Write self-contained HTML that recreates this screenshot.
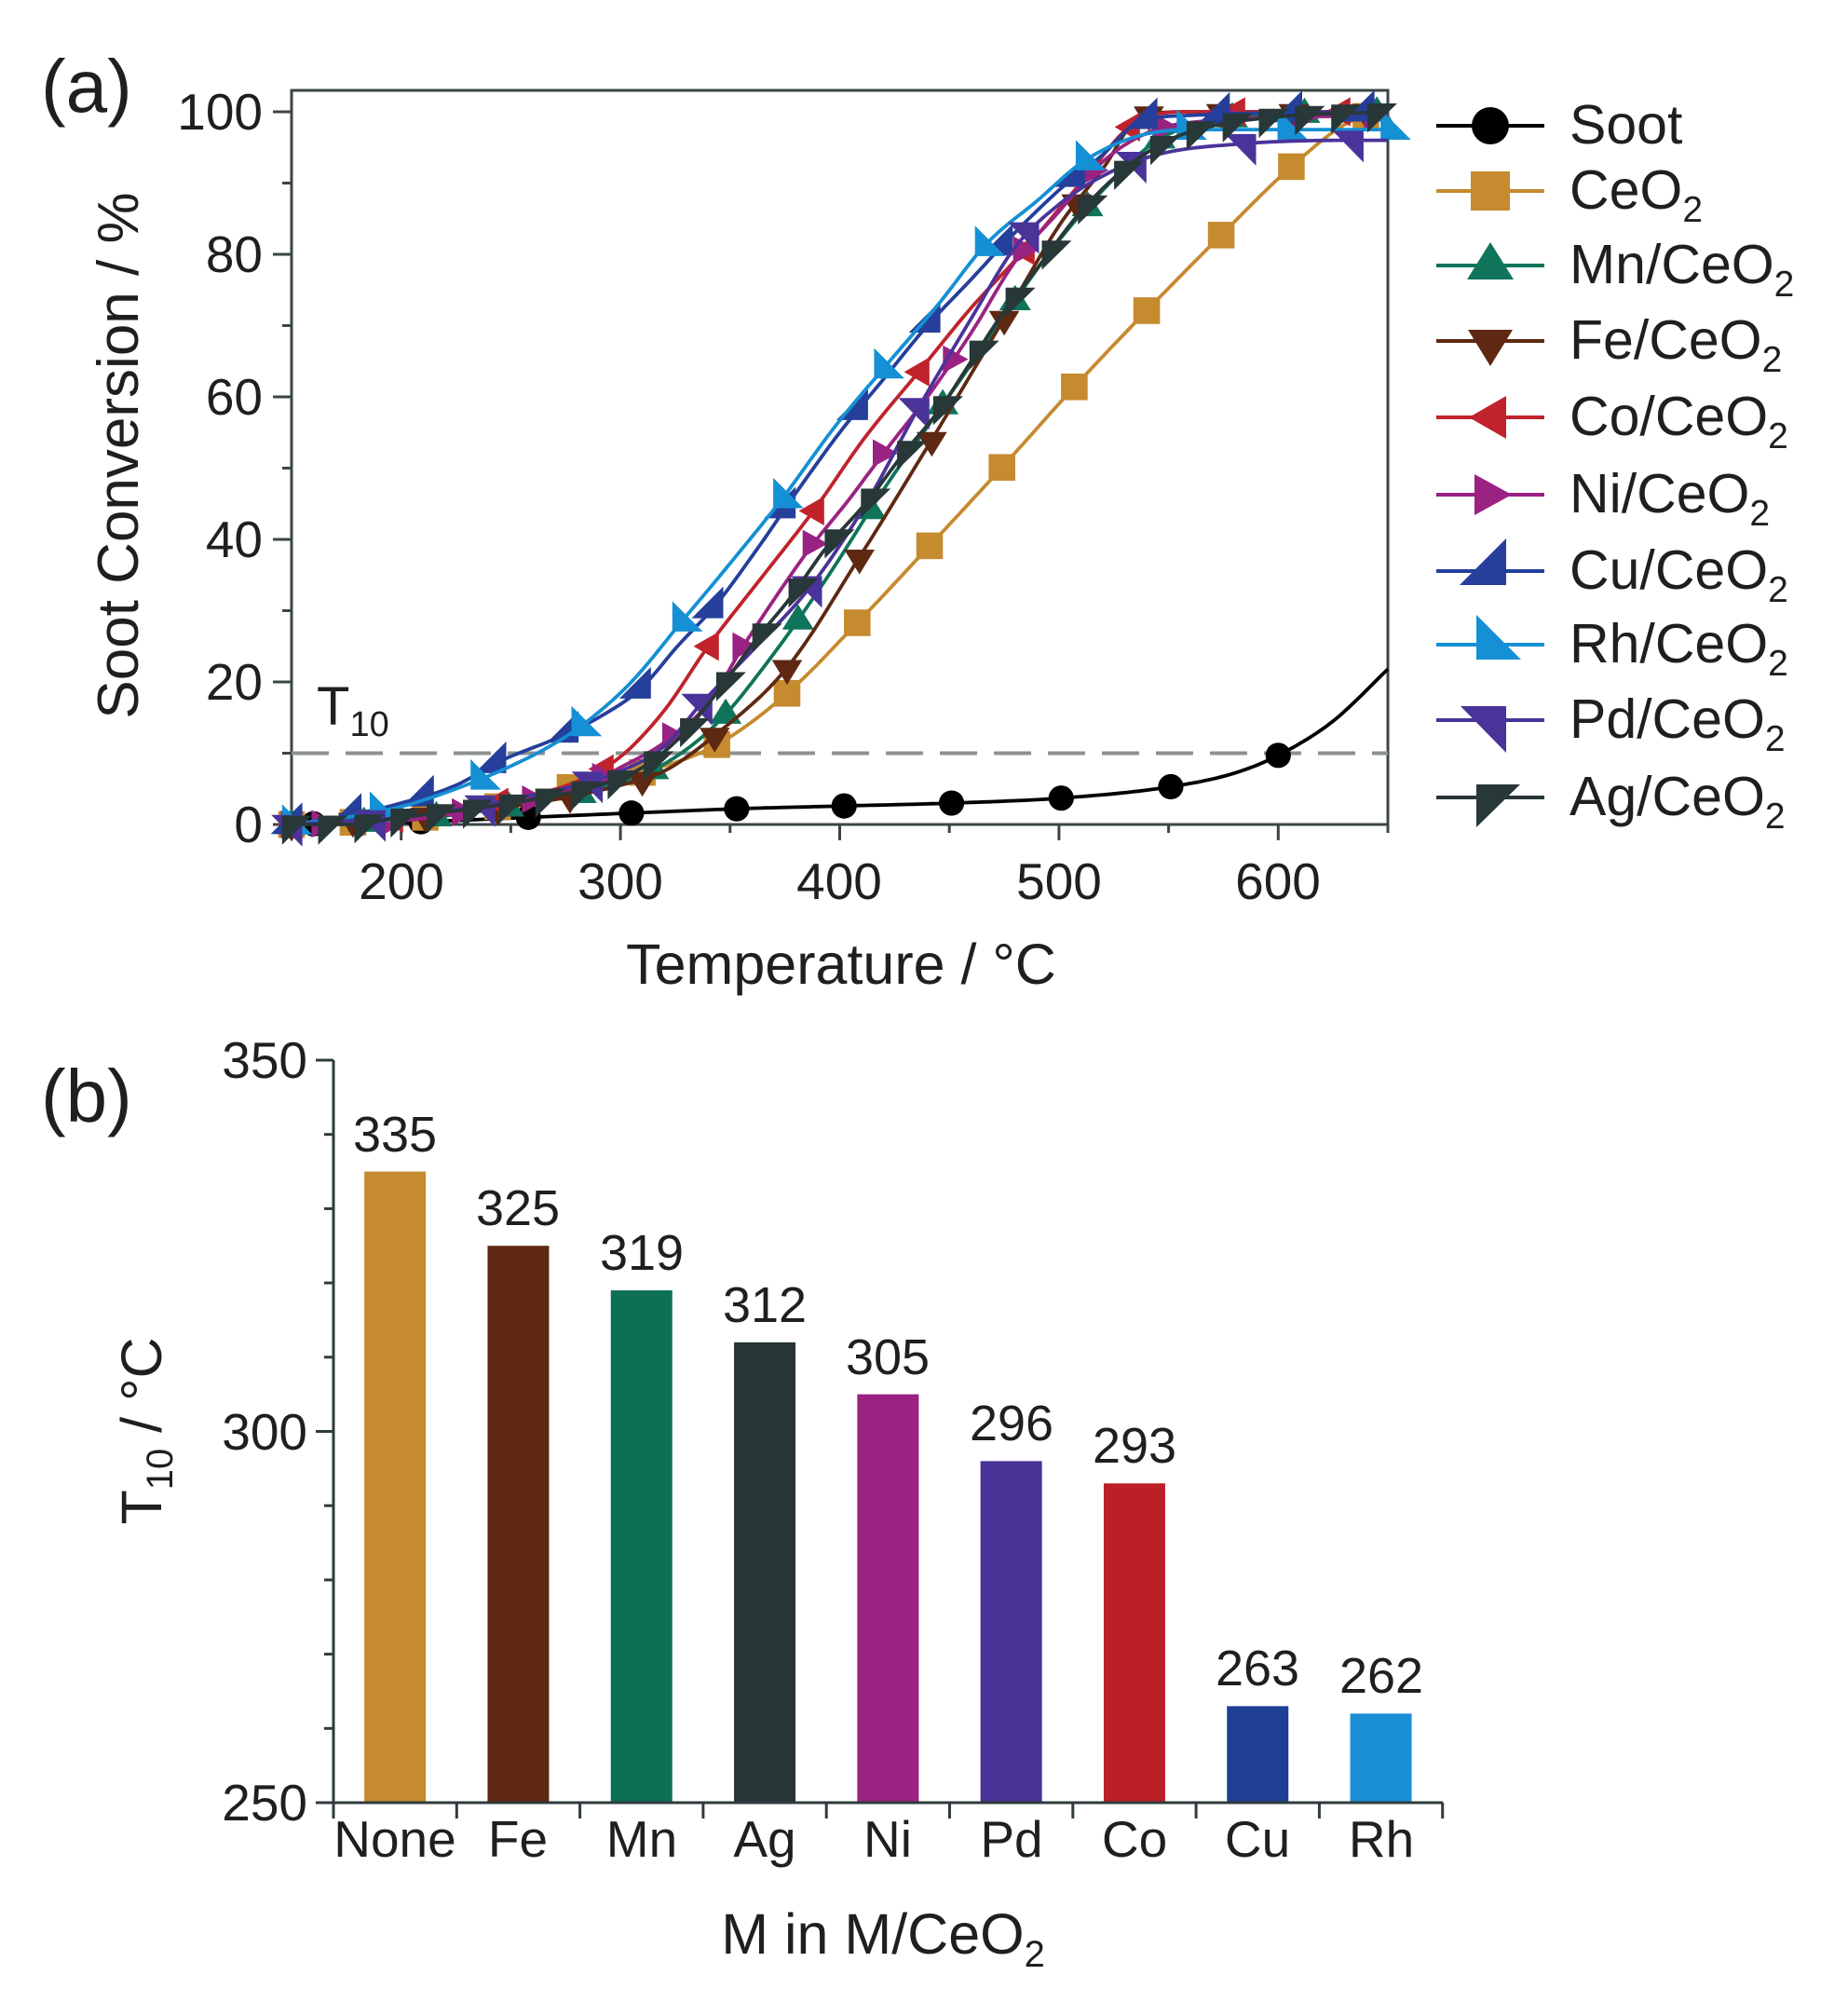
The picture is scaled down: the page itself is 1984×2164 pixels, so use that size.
<!DOCTYPE html>
<html>
<head>
<meta charset="utf-8">
<style>
  html,body{margin:0;padding:0;background:#fff;}
  svg{display:block;}
  text{font-family:"Liberation Sans", Arial, sans-serif;fill:#1d1f20;}
</style>
</head>
<body>
<svg id="s" width="1984" height="2164" viewBox="0 0 1984 2164" xmlns="http://www.w3.org/2000/svg">
  <rect x="0" y="0" width="1984" height="2164" fill="#ffffff"/>
  <g id="gA"></g>
  <g id="gB"></g>

  <!-- Panel labels -->
  <text x="44" y="120" font-size="80">(a)</text>
  <text x="44" y="1204" font-size="80">(b)</text>

  <!-- Panel a tick labels -->
  <g font-size="55" text-anchor="end">
    <text x="282" y="904">0</text>
    <text x="282" y="751">20</text>
    <text x="282" y="598">40</text>
    <text x="282" y="445">60</text>
    <text x="282" y="292">80</text>
    <text x="282" y="139">100</text>
  </g>
  <g font-size="55" text-anchor="middle">
    <text x="431" y="965">200</text>
    <text x="666" y="965">300</text>
    <text x="901" y="965">400</text>
    <text x="1137" y="965">500</text>
    <text x="1372" y="965">600</text>
  </g>
  <text x="903" y="1056" font-size="61" text-anchor="middle">Temperature / °C</text>
  <text transform="translate(148,489) rotate(-90)" font-size="62" text-anchor="middle">Soot Conversion / %</text>
  <text x="340" y="778" font-size="58">T<tspan font-size="38" dy="12">10</tspan></text>

  <!-- Legend text -->
  <g font-size="59">
    <text x="1685" y="154">Soot</text>
    <text x="1685" y="224">CeO<tspan font-size="39" dy="14">2</tspan></text>
    <text x="1685" y="304">Mn/CeO<tspan font-size="39" dy="14">2</tspan></text>
    <text x="1685" y="385">Fe/CeO<tspan font-size="39" dy="14">2</tspan></text>
    <text x="1685" y="467">Co/CeO<tspan font-size="39" dy="14">2</tspan></text>
    <text x="1685" y="550">Ni/CeO<tspan font-size="39" dy="14">2</tspan></text>
    <text x="1685" y="632">Cu/CeO<tspan font-size="39" dy="14">2</tspan></text>
    <text x="1685" y="711">Rh/CeO<tspan font-size="39" dy="14">2</tspan></text>
    <text x="1685" y="792">Pd/CeO<tspan font-size="39" dy="14">2</tspan></text>
    <text x="1685" y="875">Ag/CeO<tspan font-size="39" dy="14">2</tspan></text>
  </g>

  <!-- Panel b tick labels -->
  <g font-size="55" text-anchor="end">
    <text x="330" y="1157">350</text>
    <text x="330" y="1556">300</text>
    <text x="330" y="1954">250</text>
  </g>
  <text transform="translate(173,1536) rotate(-90)" font-size="61" text-anchor="middle">T<tspan font-size="40" dy="12">10</tspan><tspan dy="-12"> / °C</tspan></text>

  <!-- Bar value labels -->
  <g font-size="54" text-anchor="middle">
    <text x="424" y="1236">335</text>
    <text x="556" y="1315">325</text>
    <text x="689" y="1363">319</text>
    <text x="821" y="1419">312</text>
    <text x="953" y="1475">305</text>
    <text x="1086" y="1546">296</text>
    <text x="1218" y="1570">293</text>
    <text x="1350" y="1809">263</text>
    <text x="1483" y="1817">262</text>
  </g>
  <!-- Category labels -->
  <g font-size="55" text-anchor="middle">
    <text x="424" y="1993">None</text>
    <text x="556" y="1993">Fe</text>
    <text x="689" y="1993">Mn</text>
    <text x="821" y="1993">Ag</text>
    <text x="953" y="1993">Ni</text>
    <text x="1086" y="1993">Pd</text>
    <text x="1218" y="1993">Co</text>
    <text x="1350" y="1993">Cu</text>
    <text x="1483" y="1993">Rh</text>
  </g>
  <text x="948" y="2097" font-size="61" text-anchor="middle">M in M/CeO<tspan font-size="40" dy="14">2</tspan></text>
</svg>

<script>
(function(){
  var NS="http://www.w3.org/2000/svg";
  var gA=document.getElementById("gA"), gB=document.getElementById("gB");
  function el(parent,tag,attrs){var e=document.createElementNS(NS,tag);for(var k in attrs)e.setAttribute(k,attrs[k]);parent.appendChild(e);return e;}
  function X(t){return 313+(t-150)*2.354;}
  function Y(v){return 885-v*7.65;}

  function mono(pts){
    var n=pts.length,x=[],y=[],s=[],m=[],i;
    for(i=0;i<n;i++){x.push(pts[i][0]);y.push(pts[i][1]);}
    for(i=0;i<n-1;i++){s.push((y[i+1]-y[i])/(x[i+1]-x[i]));}
    m[0]=s[0];m[n-1]=s[n-2];
    for(i=1;i<n-1;i++){m[i]=(s[i-1]*s[i]<=0)?0:(s[i-1]+s[i])/2;}
    for(i=0;i<n-1;i++){
      if(s[i]===0){m[i]=0;m[i+1]=0;}
      else{var a=m[i]/s[i],b=m[i+1]/s[i],h=a*a+b*b;if(h>9){var tau=3/Math.sqrt(h);m[i]=tau*a*s[i];m[i+1]=tau*b*s[i];}}
    }
    return function(t){
      if(t<=x[0])return y[0]; if(t>=x[n-1])return y[n-1];
      var k=0;while(k<n-2&&t>x[k+1])k++;
      var h=x[k+1]-x[k],u=(t-x[k])/h,u2=u*u,u3=u2*u;
      return (2*u3-3*u2+1)*y[k]+(u3-2*u2+u)*h*m[k]+(-2*u3+3*u2)*y[k+1]+(u3-u2)*h*m[k+1];
    };
  }

  var shapes={
    up:[[0,-25],[25,15],[-25,15]],
    down:[[-24,-12],[24,-12],[0,27]],
    left:[[-23,0],[17,-23],[17,23]],
    right:[[23,0],[-17,-22],[-17,22]],
    cu:[[17,-35],[17,15],[-33,15]],
    rh:[[-15,-32],[-15,16],[33,16]],
    pd:[[-32,-15],[17,-15],[17,35]],
    ag:[[-15,-14],[32,-14],[-15,32]]
  };
  function marker(parent,shape,cx,cy,k,col){
    if(shape==="circle"){el(parent,"circle",{cx:cx,cy:cy,r:20*k,fill:col});return;}
    if(shape==="square"){var h=21*k;el(parent,"rect",{x:cx-h,y:cy-h,width:2*h,height:2*h,fill:col});return;}
    var p=shapes[shape].map(function(q){return (cx+q[0]*k).toFixed(1)+","+(cy+q[1]*k).toFixed(1);}).join(" ");
    el(parent,"polygon",{points:p,fill:col});
  }
  function seq(a,step,b){var r=[];for(var t=a;t<=b+0.01;t+=step)r.push(t);return r;}

  var series=[
    {name:"Soot",col:"#000000",shape:"circle",
     pts:[[150,0],[161,0.1],[211,0.4],[258,1],[305,1.6],[353,2.2],[402,2.6],[451,3],[501,3.7],[551,5.3],[580,7.2],[600,9.7],[625,14.5],[650,21.8]],
     mk:[160,209,258,305,353,402,451,501,551,600]},
    {name:"CeO2",col:"#c68a2f",shape:"square",
     pts:[[150,0],[178,0.3],[211,1],[244,2.5],[277,5.2],[310,7.3],[344,11.2],[376,18.4],[408,28.3],[441,39.1],[474,50.1],[507,61.4],[540,72.1],[574,82.7],[606,92.3],[632,98.5],[650,100]],
     mk:[150,178,211,244,277,310,344,376,408,441,474,507,540,574,606,640]},
    {name:"Mn",col:"#0f7459",shape:"up",
     pts:[[150,0],[200,0.6],[250,2.5],[290,5],[320,8.5],[345,14.5],[370,24],[395,35],[420,47],[445,58],[470,69],[495,80],[520,89],[545,96],[575,99],[650,100]],
     mk:seq(150,33,650)},
    {name:"Fe",col:"#5e2812",shape:"down",
     pts:[[150,0],[200,1],[250,2.5],[300,5.5],[320,7.5],[343,12.5],[376,22],[409,37.5],[442,54],[475,71],[500,84],[520,92],[538,99.5],[560,100],[650,100]],
     mk:[150,178,211,244,277,310,343,376,409,442,475,508,541,574,607,640]},
    {name:"Co",col:"#c0232c",shape:"left",
     pts:[[150,0],[200,1],[250,3.5],[280,6],[300,9.5],[320,16],[340,25],[364,34.5],[388,44],[412,54.5],[436,63.5],[460,72.5],[484,80.5],[510,90],[535,98.5],[560,100],[650,100]],
     mk:[150,196,244,292,340,388,436,484,532,580,628]},
    {name:"Ni",col:"#9a2282",shape:"right",
     pts:[[150,0],[200,0.5],[250,3],[280,5],[300,8],[320,11.5],[340,17],[356,25],[371,32],[387,39],[404,45.5],[421,52.5],[440,60],[460,69],[480,79],[500,86],[520,93],[540,97],[560,98.5],[650,99.5]],
     mk:[150,164,196,228,260,292,324,356,388,420,452,484,516,548,580,612,644]},
    {name:"Cu",col:"#253f9b",shape:"cu",
     pts:[[150,0],[175,1.2],[200,3],[225,5.5],[246,9],[270,12],[290,15],[309,19],[326,25],[344,31],[362,38.5],[380,46.5],[400,55],[420,62.5],[440,70],[460,76.5],[475,81.5],[500,89],[520,94],[536,98.5],[560,99.5],[650,100]],
     mk:[150,177,210,243,276,309,342,375,408,441,474,507,540,573,606,639]},
    {name:"Rh",col:"#1590d4",shape:"rh",
     pts:[[150,0],[175,1],[200,2.5],[225,5],[245,7.5],[265,10.5],[282,13.8],[305,20],[328,28.5],[351,37],[374,45.8],[397,55.5],[420,64],[445,73],[467,81.5],[490,87.5],[511,93],[535,96.5],[560,97.5],[600,97.5],[651,97.5]],
     mk:[150,190,236,282,328,374,420,466,512,558,604,651]},
    {name:"Pd",col:"#4a3399",shape:"pd",
     pts:[[150,0],[200,1],[250,3.5],[300,7.5],[320,11],[337,17],[362,25],[387,33.5],[412,45],[436,58.5],[460,71],[480,81],[500,87],[520,91],[545,94],[583,95.5],[632,96],[650,96]],
     mk:[150,188,238,287,337,387,436,486,535,585,634]},
    {name:"Ag",col:"#283738",shape:"ag",
     pts:[[150,0],[175,0],[200,1],[250,3],[290,5.5],[310,8],[328,12.5],[344,18.5],[362,26],[378,32],[393,38.5],[413,45.5],[429,52],[445,58],[460,65],[475,72],[490,78],[510,86],[530,92],[550,96],[570,98],[600,99.3],[650,100]],
     mk:seq(150,16.5,650)}
  ];

  var ax=el(gA,"g",{stroke:"#3b4547","stroke-width":"3",fill:"none"});
  el(ax,"rect",{x:313,y:97,width:1177,height:788});
  for(var v=0;v<=100;v+=10){
    var yy=Y(v), len=(v%20===0)?20:10;
    el(ax,"line",{x1:313-len,y1:yy,x2:313,y2:yy});
  }
  for(var t=200;t<=650;t+=50){
    var xx=X(t), l2=(t%100===0)?17:9;
    el(ax,"line",{x1:xx,y1:885,x2:xx,y2:885+l2});
  }
  el(gA,"line",{x1:313,y1:Y(10),x2:1490,y2:Y(10),stroke:"#8c9293","stroke-width":"4","stroke-dasharray":"40 18"});

  series.forEach(function(s){
    var f=mono(s.pts), d="";
    for(var t=150;t<=650.01;t+=2){
      d+=(t===150?"M":"L")+X(t).toFixed(1)+","+Y(f(t)).toFixed(1);
    }
    var g=el(gA,"g",{});
    el(g,"path",{d:d,fill:"none",stroke:s.col,"stroke-width":"3.8","stroke-linejoin":"round"});
    s.mk.forEach(function(t){ marker(g,s.shape,X(t),Y(f(t)),0.68,s.col); });
  });

  var ly=[135,205,285,366,448,531,613,692,773,856];
  series.forEach(function(s,i){
    el(gA,"line",{x1:1542,y1:ly[i],x2:1658,y2:ly[i],stroke:s.col,"stroke-width":"4"});
    marker(gA,s.shape,1600,ly[i],1,s.col);
  });

  function YB(v){return 1935-(v-250)*7.97;}
  var vals=[335,325,319,312,305,296,293,263,262];
  var cols=["#c68a2f","#5e2812","#0d7055","#283637","#9a2282","#4a3396","#bc2026","#1f3f95","#1a8fd5"];
  vals.forEach(function(v,i){
    var cx=358+132.3*(i+0.5);
    el(gB,"rect",{x:cx-33,y:YB(v),width:66,height:1935-YB(v),fill:cols[i]});
  });
  var bx=el(gB,"g",{stroke:"#2f3b3d","stroke-width":"3",fill:"none"});
  el(bx,"line",{x1:358,y1:1138,x2:358,y2:1935});
  el(bx,"line",{x1:358,y1:1935,x2:1549,y2:1935});
  for(var v2=250;v2<=350;v2+=10){
    var yb=YB(v2), lb=(v2%50===0)?19:10;
    el(bx,"line",{x1:358-lb,y1:yb,x2:358,y2:yb});
  }
  for(var k=0;k<=9;k++){
    var xb=358+132.3*k;
    el(bx,"line",{x1:xb,y1:1935,x2:xb,y2:1952});
  }
})();
</script>
</body>
</html>
